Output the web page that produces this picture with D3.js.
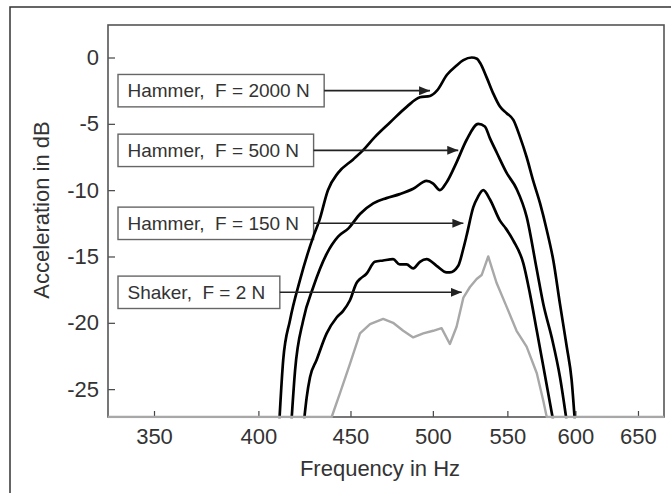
<!DOCTYPE html>
<html>
<head>
<meta charset="utf-8">
<script src="https://cdn.jsdelivr.net/npm/d3@7"></script>
<style>
  body { margin: 0; background: #fff; }
  text { font-family: "Liberation Sans", Arial, Helvetica, sans-serif; fill: #333; }
</style>
</head>
<body>
<div id="chart"></div>
<script>
// values: frequency in Hz, acceleration in dB
var freq2000 = [410.8, 412.9, 416.5, 421.8, 429.1, 432.4, 437.2, 442.9, 451.4, 457.2, 464.2, 473.3, 483.7, 491.8, 498.2, 502.6, 509.1, 515.4, 519.9, 525.5, 529.0, 531.1, 535.6, 540.1, 544.8, 549.5, 554.2, 559.0, 563.7, 568.5, 573.5, 578.4, 583.3, 588.3, 593.4, 597.1, 599.7];
var acc2000 = [-27.6, -22.8, -19.8, -16.8, -13.5, -12.3, -10.0, -8.7, -7.7, -7.0, -6.0, -4.9, -3.7, -3.0, -2.9, -2.5, -1.3, -0.6, -0.2, 0.0, -0.1, -0.4, -1.5, -2.7, -3.7, -4.2, -4.7, -6.0, -7.5, -9.3, -11.0, -13.0, -15.3, -18.6, -21.8, -24.3, -27.6];

var freq500 = [417.2, 419.2, 423.6, 429.1, 436.5, 442.9, 448.7, 455.5, 463.3, 471.2, 479.3, 487.6, 496.0, 500.2, 504.5, 508.9, 515.4, 522.1, 529.9, 534.4, 537.9, 542.7, 549.5, 556.5, 563.7, 571.1, 575.9, 582.1, 588.3, 593.6];
var acc500 = [-27.6, -23.6, -19.8, -17.3, -14.8, -13.5, -12.9, -11.8, -11.0, -10.6, -10.3, -9.9, -9.3, -9.5, -10.0, -9.4, -7.9, -6.2, -5.0, -5.2, -6.1, -7.2, -8.7, -9.9, -12.0, -16.0, -18.6, -21.1, -24.1, -27.6];

var freq150 = [423.9, 425.5, 427.3, 430.9, 436.5, 442.1, 445.8, 449.7, 453.5, 455.5, 459.3, 464.2, 469.2, 475.2, 479.3, 483.5, 487.6, 491.8, 496.0, 502.4, 508.9, 511.0, 516.5, 519.9, 522.1, 526.5, 529.7, 533.3, 537.9, 544.8, 549.0, 554.2, 561.3, 566.1, 571.1, 575.9, 583.6];
var acc150 = [-27.6, -25.6, -24.1, -22.8, -20.8, -19.6, -19.1, -18.3, -17.0, -16.7, -16.3, -15.4, -15.3, -15.2, -15.6, -15.6, -15.9, -15.4, -15.2, -15.7, -16.2, -16.2, -15.7, -14.4, -13.4, -11.3, -10.5, -10.0, -10.7, -12.3, -12.9, -13.8, -15.5, -17.8, -20.6, -23.3, -27.6];

var freqShaker = [330, 439.3, 444.0, 449.7, 455.5, 461.4, 469.2, 475.2, 481.4, 487.6, 493.9, 500.2, 505.6, 511.0, 515.4, 519.9, 524.3, 528.8, 532.2, 536.7, 542.5, 549.5, 556.5, 563.7, 571.1, 575.9, 578.4, 672];
var accShaker = [-27.1, -27.1, -25.3, -23.1, -20.8, -20.1, -19.7, -20.0, -20.6, -21.1, -20.8, -20.6, -20.4, -21.6, -20.3, -18.1, -17.3, -16.7, -16.4, -15.0, -17.0, -18.8, -20.6, -21.8, -23.8, -25.9, -27.1, -27.1];

// annotation boxes and where their arrows point
var labels = ["Hammer,  F = 2000 N", "Hammer,  F = 500 N", "Hammer,  F = 150 N", "Shaker,  F = 2 N"];
var arrowFreq = [498.2, 516.5, 519.9, 518.8];
var arrowAcc = [-2.5, -7.0, -12.5, -17.7];

var xTicks = [350, 400, 450, 500, 550, 600, 650];
var yTicks = [0, -5, -10, -15, -20, -25];

// set the dimensions and margins of the graph
var margin = { top: 25, right: 7, bottom: 76, left: 108 },
    width = 671 - margin.left - margin.right,
    height = 493 - margin.top - margin.bottom;

var root = d3.select("#chart")
    .append("svg")
    .attr("width", 671)
    .attr("height", 493);

// outer figure frame (left and top edges only are visible)
root.append("path")
    .attr("d", "M10,493 L10,7 L671,7")
    .attr("fill", "none")
    .attr("stroke", "#333")
    .attr("stroke-width", 1.5);

var svg = root.append("g")
    .attr("transform", "translate(" + margin.left + "," + margin.top + ")");

var x = d3.scaleLog()
    .domain([330, 672])
    .range([0, width]);

var y = d3.scaleLinear()
    .domain([-27.1, 2.45])
    .range([height, 0]);

// X axis, ticks pointing inward
var xAxis = svg.append("g")
    .attr("transform", "translate(0," + height + ")")
    .call(d3.axisBottom(x).tickValues(xTicks).tickFormat(function (d) { return String(d); })
        .tickSizeInner(-6).tickSizeOuter(0).tickPadding(11));

// Y axis, ticks pointing inward
var yAxis = svg.append("g")
    .call(d3.axisLeft(y).tickValues(yTicks).tickFormat(function (d) { return String(d); })
        .tickSizeInner(-7).tickSizeOuter(0).tickPadding(9));

[xAxis, yAxis].forEach(function (g) {
    g.select(".domain").remove();
    g.selectAll(".tick line").attr("stroke", "#444").attr("stroke-width", 1.2);
    g.selectAll(".tick text")
        .attr("fill", "#333")
        .style("font-family", "'Liberation Sans', Arial, sans-serif")
        .style("font-size", "22px");
});

// plot frame
svg.append("rect")
    .attr("width", width)
    .attr("height", height)
    .attr("fill", "none")
    .attr("stroke", "#555")
    .attr("stroke-width", 1.6);

// axis titles
svg.append("text")
    .attr("x", 272)
    .attr("y", height + 59)
    .attr("text-anchor", "middle")
    .style("font-size", "22px")
    .text("Frequency in Hz");

svg.append("text")
    .attr("transform", "translate(-59," + 185 + ") rotate(-90)")
    .attr("text-anchor", "middle")
    .style("font-size", "22px")
    .text("Acceleration in dB");

// annotation boxes
var boxes = svg.selectAll("g.note")
    .data(labels)
    .enter()
    .append("g")
    .attr("class", "note");

boxes.each(function (d, i) {
    var g = d3.select(this);
    var cy = y(arrowAcc[i]);
    var rect = g.append("rect")
        .attr("x", 10)
        .attr("y", cy - 16.2)
        .attr("height", 32.4)
        .attr("fill", "#fff")
        .attr("stroke", "#666")
        .attr("stroke-width", 1.4);
    var t = g.append("text")
        .attr("x", 19.5)
        .attr("y", cy + 6.7)
        .attr("xml:space", "preserve")
        .style("white-space", "pre")
        .style("font-size", "19px")
        .text(d);
    var w = t.node().getComputedTextLength();
    rect.attr("width", w + 24);
    g.attr("data-right", 10 + w + 24);
});

// clip the curves to the plot area
svg.append("clipPath")
    .attr("id", "plotclip")
    .append("rect")
    .attr("y", -2)
    .attr("width", width)
    .attr("height", height + 3.2);

var series = [
    { f: freq2000, a: acc2000, color: "#000", w: 2.7 },
    { f: freq500, a: acc500, color: "#000", w: 2.7 },
    { f: freq150, a: acc150, color: "#000", w: 2.7 },
    { f: freqShaker, a: accShaker, color: "#a8a8a8", w: 2.4 }
];

var smooth = d3.line()
    .x(function (d) { return x(d[0]); })
    .y(function (d) { return y(d[1]); })
    .curve(d3.curveMonotoneX);

var straight = d3.line()
    .x(function (d) { return x(d[0]); })
    .y(function (d) { return y(d[1]); });

svg.append("g")
    .attr("clip-path", "url(#plotclip)")
    .selectAll("path")
    .data(series)
    .enter()
    .append("path")
    .attr("fill", "none")
    .attr("stroke", function (d) { return d.color; })
    .attr("stroke-width", function (d) { return d.w; })
    .attr("stroke-linejoin", "round")
    .attr("d", function (d, i) {
        var pts = d.f.map(function (v, k) { return [v, d.a[k]]; });
        return i === 3 ? straight(pts) : smooth(pts);
    });

// arrows from the boxes to the curves
svg.append("defs").append("marker")
    .attr("id", "head")
    .attr("markerUnits", "userSpaceOnUse")
    .attr("markerWidth", 12)
    .attr("markerHeight", 10)
    .attr("refX", 11)
    .attr("refY", 4.5)
    .attr("orient", "auto")
    .append("path")
    .attr("d", "M0,0 L11,4.5 L0,9 Z")
    .attr("fill", "#222");

boxes.each(function (d, i) {
    var g = d3.select(this);
    svg.append("line")
        .attr("x1", +g.attr("data-right"))
        .attr("x2", x(arrowFreq[i]))
        .attr("y1", y(arrowAcc[i]))
        .attr("y2", y(arrowAcc[i]))
        .attr("stroke", "#222")
        .attr("stroke-width", 1.6)
        .attr("marker-end", "url(#head)");
});
</script>
</body>
</html>
